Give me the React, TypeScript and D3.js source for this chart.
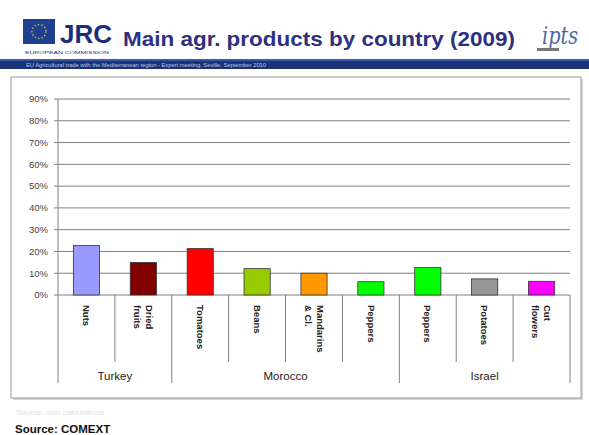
import { useMemo } from 'react';
import * as d3 from 'd3';

const categories = ['Nuts', 'Dried fruits', 'Tomatoes', 'Beans', 'Mandarins & Cl.', 'Peppers', 'Peppers', 'Potatoes', 'Cut flowers'];
const labelLines = [['Nuts'], ['Dried', 'fruits'], ['Tomatoes'], ['Beans'], ['Mandarins', '& Cl.'], ['Peppers'], ['Peppers'], ['Potatoes'], ['Cut', 'flowers']];
const shares = [0.227, 0.149, 0.213, 0.121, 0.10, 0.061, 0.126, 0.074, 0.063];
const barColors = ['#9999ff', '#800000', '#ff0000', '#99cc00', '#ff9900', '#00ff00', '#00ff00', '#969696', '#ff00ff'];
const countries = ['Turkey', 'Morocco', 'Israel'];
const countrySpans = [[0, 2], [2, 6], [6, 9]];
const yTicks = [0, 0.1, 0.2, 0.3, 0.4, 0.5, 0.6, 0.7, 0.8, 0.9];

const W = 589, H = 435;
const P = { l: 58, r: 570, t: 99, b: 295 };

export default function App() {
  const x = useMemo(() => d3.scaleBand<number>().domain(d3.range(categories.length)).range([P.l, P.r]).padding(0), []);
  const y = useMemo(() => d3.scaleLinear().domain([0, 0.9]).range([P.b, P.t]), []);
  const fmt = d3.format('.0%');
  const bw = x.bandwidth() * 0.46;
  const edge = (i: number) => (i >= categories.length ? P.r : (x(i) as number));

  return (
    <svg width={W} height={H} style={{ position: 'absolute', left: 0, top: 0, background: '#fff' }}
      fontFamily="Arial, 'Liberation Sans', sans-serif">
      {/* header */}
      <rect x={23} y={19} width={32} height={25} fill="#1f3f8f" />
      <circle cx={39} cy={31.5} r={7} fill="none" stroke="#d8c860" strokeWidth={1.2} strokeDasharray="1.5,2" />
      <text x={60} y={43} fontSize={25} fontWeight="bold" fill="#1a2e7a" textLength={52} lengthAdjust="spacingAndGlyphs">JRC</text>
      <text x={25} y={54} fontSize={4} fill="#1a2e7a" textLength={84} lengthAdjust="spacingAndGlyphs">EUROPEAN COMMISSION</text>
      <text x={123} y={46} fontSize={21} fontWeight="bold" fill="#2e3080" textLength={392} lengthAdjust="spacingAndGlyphs">
        Main agr. products by country (2009)
      </text>
      <text x={542} y={44} fontSize={24} fontStyle="italic" fill="#4a6aa0" fontFamily="'DejaVu Serif', serif" textLength={36} lengthAdjust="spacingAndGlyphs">ipts</text>
      <rect x={537} y={48} width={22} height={3} fill="#777" />
      <rect x={0} y={59} width={W} height={10} fill="#1c3278" />
      <rect x={0} y={59} width={W} height={2} fill="#3a5aa8" />
      <text x={26} y={66.5} fontSize={4.5} fill="#b8c4e8" textLength={240} lengthAdjust="spacingAndGlyphs">
        EU Agricultural trade with the Mediterranean region - Expert meeting, Seville, September 2010
      </text>

      {/* frame */}
      <rect x={13} y={79} width={570} height={321} fill="#d8d8d8" />
      <rect x={11} y={77} width={570} height={321} fill="#fff" stroke="#9a9a9a" strokeWidth={1} />

      {/* grid + y axis */}
      {yTicks.map(t => (
        <g key={t}>
          <line x1={P.l - 4} x2={P.r} y1={y(t)} y2={y(t)} stroke="#808080" strokeWidth={1} />
          <text x={48} y={y(t)} dy="0.35em" textAnchor="end" fontSize={9.5} fill="#444">{fmt(t)}</text>
        </g>
      ))}
      <line x1={P.l} x2={P.l} y1={P.t} y2={P.b} stroke="#808080" />

      {/* bars */}
      {shares.map((v, i) => {
        const cx = (x(i) as number) + x.bandwidth() / 2;
        return (
          <rect key={i} x={cx - bw / 2} y={y(v)} width={bw} height={y(0) - y(v)}
            fill={barColors[i]} stroke="#333" strokeWidth={0.8} />
        );
      })}

      {/* category ticks */}
      {d3.range(categories.length + 1).map(i => {
        const isGroup = countrySpans.some(s => s[0] === i || s[1] === i);
        return <line key={i} x1={edge(i)} x2={edge(i)} y1={P.b} y2={isGroup ? 383 : 362} stroke="#808080" />;
      })}

      {/* category labels */}
      {labelLines.map((lines, i) => {
        const cx = (x(i) as number) + x.bandwidth() / 2;
        return (
          <g key={i} transform={`translate(${cx},305) rotate(90)`}>
            {lines.map((ln, j) => (
              <text key={j} x={0} y={-((lines.length - 1) / 2 - j) * 12} dy="0.35em" fontSize={9.5} fontWeight="bold" fill="#222">{ln}</text>
            ))}
          </g>
        );
      })}

      {/* country labels */}
      {countries.map((c, k) => (
        <text key={c} x={(edge(countrySpans[k][0]) + edge(countrySpans[k][1])) / 2} y={376} dy="0.35em"
          textAnchor="middle" fontSize={11.5} fill="#222">{c}</text>
      ))}

      {/* footer */}
      <text x={16} y={415} fontSize={8} fill="#e2e2e2">Source: own calculations</text>
      <text x={15} y={433} fontSize={11.5} fontWeight="bold" fill="#111">Source: COMEXT</text>
    </svg>
  );
}
